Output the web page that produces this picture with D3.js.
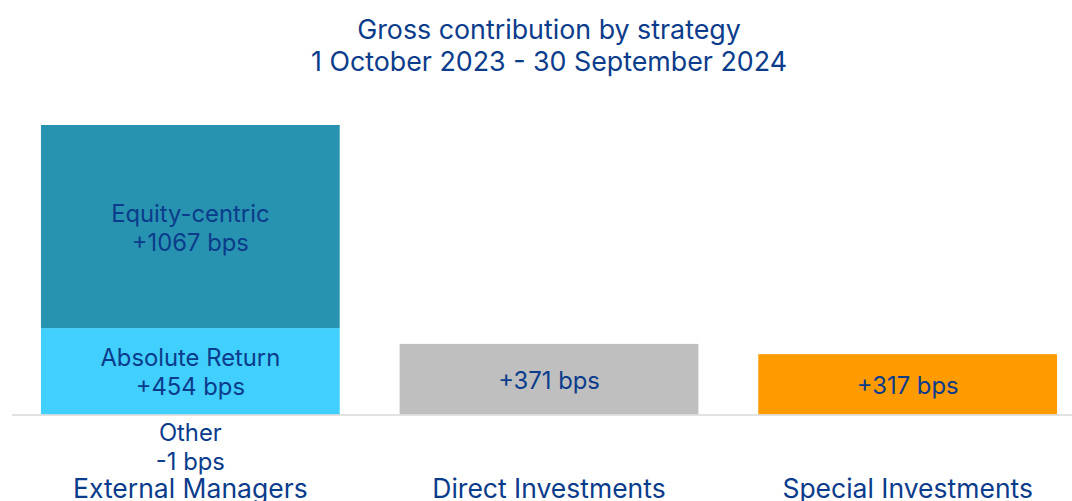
<!DOCTYPE html>
<html>
<head>
<meta charset="utf-8">
<script src="https://cdn.jsdelivr.net/npm/d3@7"></script>
<style>
  html, body { margin: 0; padding: 0; background: #fff; }
  svg { display: block; font-family: Inter, "Noto Sans", sans-serif; }
</style>
</head>
<body>
<svg id="chart" width="1072" height="501"></svg>
<script>
const titleLines = ["Gross contribution by strategy", "1 October 2023 - 30 September 2024"];
const categories = ["External Managers", "Direct Investments", "Special Investments"];
// stacked segments: [category, segment name, value in bps]
const segCategory = ["External Managers", "External Managers", "External Managers", "Direct Investments", "Special Investments"];
const segName = ["Other", "Absolute Return", "Equity-centric", "", ""];
const segValue = [-1, 454, 1067, 371, 317];
const segColor = ["#41cffd", "#41cffd", "#2893b0", "#bfbfbf", "#fd9b00"];

const W = 1072, H = 501;
const textColor = "#0b3c8c";
const svg = d3.select("#chart");

const x = d3.scaleBand().domain(categories).range([11, 1087]).paddingInner(0.167).paddingOuter(0.0835);
const y = d3.scaleLinear().domain([0, 1521]).range([414.5, 125]);

// compute stacks
const posAcc = {}, negAcc = {};
const segs = segValue.map((v, i) => {
  const c = segCategory[i];
  posAcc[c] = posAcc[c] || 0; negAcc[c] = negAcc[c] || 0;
  let y0, y1;
  if (v >= 0) { y0 = posAcc[c]; y1 = y0 + v; posAcc[c] = y1; }
  else { y1 = negAcc[c]; y0 = y1 + v; negAcc[c] = y0; }
  return { c, name: segName[i], v, y0, y1, color: segColor[i] };
});

// title
svg.append("g").selectAll("text").data(titleLines).join("text")
  .attr("x", 549).attr("y", (d, i) => 29 + i * 32)
  .attr("text-anchor", "middle").attr("dominant-baseline", "central")
  .attr("font-size", 26.8).attr("fill", textColor).text(d => d);

// bars
svg.append("g").selectAll("rect").data(segs).join("rect")
  .attr("x", d => x(d.c)).attr("width", x.bandwidth())
  .attr("y", d => y(d.y1)).attr("height", d => Math.abs(y(d.y0) - y(d.y1)))
  .attr("fill", d => d.color);

// baseline axis
svg.append("line").attr("x1", 12).attr("x2", W).attr("y1", y(0) + 0.5).attr("y2", y(0) + 0.5)
  .attr("stroke", "#d9d9d9").attr("stroke-width", 1.5);

const fmt = v => (v > 0 ? "+" : "") + v + " bps";

// segment labels
const lg = svg.append("g");
segs.forEach(d => {
  const cx = x(d.c) + x.bandwidth() / 2;
  const lines = d.name ? [d.name, fmt(d.v)] : [fmt(d.v)];
  let cy;
  if (d.v < 0) {
    cy = y(0) + 32;
  } else {
    cy = (y(d.y0) + y(d.y1)) / 2 + 1;
  }
  const lh = 29;
  const top = cy - (lines.length - 1) * lh / 2;
  lines.forEach((t, k) => {
    lg.append("text").attr("x", cx).attr("y", top + k * lh)
      .attr("text-anchor", "middle").attr("dominant-baseline", "central")
      .attr("font-size", 23.8).attr("fill", textColor).text(t);
  });
});

// category labels
svg.append("g").selectAll("text").data(categories).join("text")
  .attr("x", d => x(d) + x.bandwidth() / 2).attr("y", 488)
  .attr("text-anchor", "middle").attr("dominant-baseline", "central")
  .attr("font-size", 26.5).attr("fill", textColor).text(d => d);
</script>
</body>
</html>
